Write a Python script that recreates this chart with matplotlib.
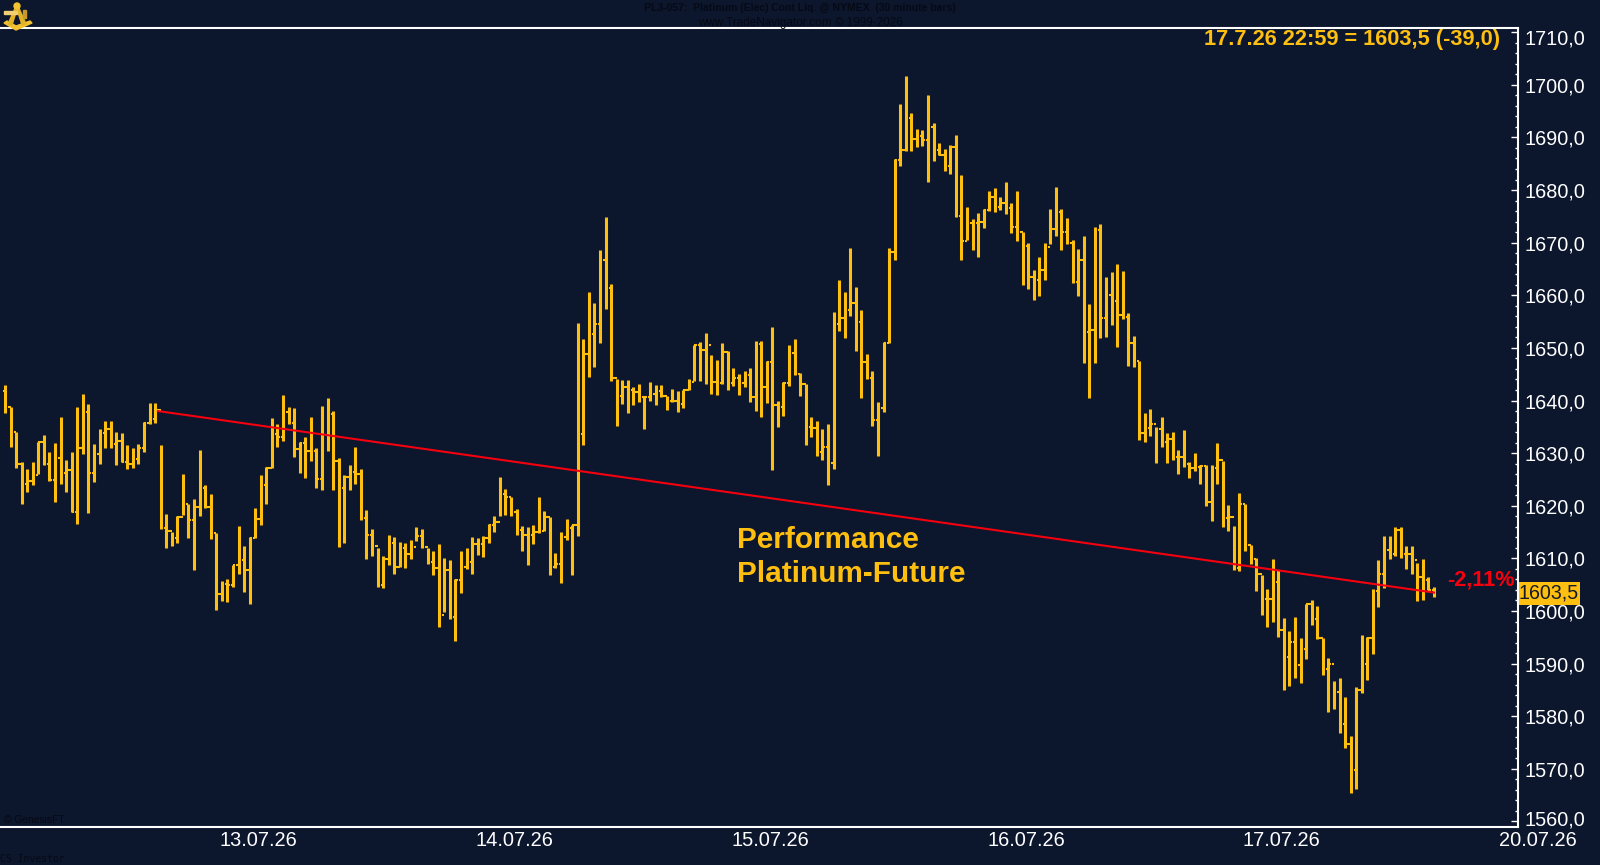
import matplotlib
matplotlib.use("Agg")
import matplotlib.pyplot as plt
from matplotlib.patches import Polygon, Circle, Rectangle
from matplotlib.transforms import Affine2D, blended_transform_factory
import numpy as np

plt.rcParams['font.family'] = ['Liberation Sans', 'DejaVu Sans']

highs = [
1642.9,1638.8,1634.1,1628.4,1627.0,1628.3,1632.2,1633.4,1630.2,1632.0,
1636.8,1628.7,1630.3,1638.8,1641.2,1639.3,1631.7,1634.5,1636.2,1636.2,
1634.1,1633.8,1631.5,1630.9,1631.7,1636.0,1639.6,1639.6,1631.5,1618.4,
1615.1,1618.0,1626.1,1620.3,1621.2,1630.6,1624.0,1622.3,1614.9,1605.7,
1606.0,1608.8,1616.1,1612.4,1614.0,1619.5,1625.8,1627.4,1636.6,1635.5,
1641.0,1638.8,1638.5,1632.2,1633.0,1636.9,1630.9,1639.0,1640.4,1638.1,
1629.1,1625.8,1627.7,1631.1,1626.9,1619.2,1615.6,1611.9,1610.5,1614.5,
1614.1,1613.1,1613.0,1613.5,1616.0,1615.6,1612.0,1611.4,1612.8,1610.0,
1609.6,1606.0,1611.4,1611.9,1614.0,1613.8,1614.3,1616.6,1618.0,1625.5,
1623.2,1621.7,1619.3,1616.1,1616.0,1616.4,1621.6,1619.0,1617.9,1611.1,
1615.0,1617.4,1616.4,1654.8,1651.7,1660.7,1658.6,1668.6,1674.8,1662.2,
1644.1,1643.9,1643.9,1642.6,1643.2,1640.6,1643.5,1642.9,1643.0,1640.9,
1642.2,1641.8,1642.0,1644.0,1650.6,1651.2,1652.9,1648.7,1647.7,1651.0,
1649.4,1646.1,1645.0,1645.6,1646.1,1651.3,1651.3,1647.5,1653.9,1639.9,
1643.5,1650.6,1651.7,1645.3,1643.1,1636.9,1636.1,1634.5,1635.5,1656.9,
1663.0,1660.7,1669.0,1661.5,1657.2,1648.8,1645.6,1639.8,1651.1,1668.9,
1685.9,1696.3,1701.7,1694.6,1691.6,1691.4,1698.0,1692.7,1688.9,1687.8,
1688.6,1690.5,1682.8,1676.8,1674.5,1675.7,1676.4,1679.9,1680.3,1678.6,
1681.5,1677.5,1679.9,1672.0,1669.9,1664.9,1667.2,1669.9,1676.4,1680.5,
1676.4,1674.6,1670.5,1668.8,1671.3,1658.3,1673.0,1673.6,1663.5,1664.5,
1666.0,1664.7,1656.7,1652.3,1647.5,1637.7,1638.3,1635.0,1636.8,1633.8,
1634.1,1630.6,1634.4,1628.4,1630.1,1627.7,1627.7,1627.7,1632.0,1628.5,
1620.1,1616.1,1622.5,1620.3,1612.6,1610.1,1606.9,1604.1,1609.8,1607.8,
1598.7,1596.2,1598.9,1594.8,1601.4,1602.0,1600.9,1594.8,1591.0,1586.6,
1587.2,1583.7,1576.3,1585.5,1595.5,1595.0,1604.1,1609.6,1614.3,1614.3,
1615.9,1615.9,1612.4,1612.4,1609.2,1609.8,1606.4,1604.6,
]
lows = [
1637.6,1631.1,1627.1,1620.4,1622.7,1623.9,1626.0,1627.7,1624.7,1620.8,
1624.2,1622.7,1618.9,1616.6,1629.8,1618.7,1624.6,1628.0,1631.0,1630.9,
1627.7,1628.4,1626.9,1627.1,1627.9,1630.3,1635.5,1635.8,1615.6,1611.9,
1612.3,1613.0,1618.2,1613.8,1607.8,1618.1,1619.5,1613.7,1600.1,1601.9,
1601.8,1604.5,1607.1,1603.6,1601.4,1613.8,1616.3,1620.3,1627.1,1631.1,
1632.4,1635.5,1629.2,1626.3,1625.2,1628.5,1623.3,1622.9,1630.4,1623.0,
1612.2,1613.0,1622.9,1624.2,1617.3,1609.8,1610.4,1604.5,1604.3,1608.8,
1607.1,1608.4,1608.1,1609.8,1613.3,1612.0,1609.0,1606.8,1596.9,1599.8,
1598.4,1594.3,1603.4,1608.0,1607.1,1610.6,1610.3,1613.0,1615.0,1618.1,
1618.3,1618.1,1614.4,1611.4,1608.7,1612.8,1614.9,1615.2,1606.8,1608.1,
1605.4,1613.5,1606.9,1614.3,1631.6,1644.5,1646.3,1651.0,1657.4,1643.7,
1635.1,1639.4,1637.7,1639.1,1639.7,1634.5,1639.9,1639.1,1640.7,1638.2,
1639.7,1637.8,1638.5,1642.0,1643.7,1643.7,1643.2,1641.3,1641.0,1643.2,
1642.0,1642.7,1641.1,1642.5,1639.7,1638.0,1636.9,1639.6,1626.7,1635.0,
1637.1,1642.7,1644.8,1640.8,1631.5,1633.1,1629.4,1628.6,1623.9,1627.0,
1653.2,1651.8,1656.1,1649.4,1640.4,1644.0,1635.2,1629.5,1637.9,1651.0,
1666.7,1684.5,1687.5,1687.5,1688.1,1688.4,1681.6,1685.5,1686.6,1683.6,
1683.1,1674.8,1666.8,1670.5,1668.6,1667.3,1672.7,1676.0,1675.8,1676.3,
1675.4,1671.8,1670.3,1661.9,1661.1,1659.1,1659.9,1663.0,1669.7,1671.3,
1668.6,1669.7,1662.3,1659.9,1647.2,1640.4,1647.2,1651.9,1652.0,1654.3,
1650.2,1655.4,1646.6,1646.3,1632.5,1632.2,1633.2,1628.2,1631.2,1628.2,
1628.6,1626.1,1627.3,1625.2,1626.6,1624.1,1620.0,1617.1,1624.2,1615.9,
1615.2,1607.8,1607.6,1611.4,1609.0,1603.8,1599.2,1597.0,1597.9,1595.0,
1584.9,1585.8,1587.3,1586.3,1590.8,1597.4,1594.6,1587.8,1580.8,1581.3,
1576.8,1574.0,1565.5,1566.1,1584.4,1586.8,1591.9,1600.8,1604.3,1609.9,
1610.5,1610.0,1608.0,1607.1,1601.9,1602.1,1604.0,1602.6,
]
closes = [
1638.8,1634.1,1628.0,1624.2,1624.7,1625.8,1632.2,1628.0,1624.9,1629.1,
1626.3,1626.8,1618.9,1630.9,1637.9,1626.3,1629.8,1633.9,1634.5,1631.7,
1632.3,1628.4,1628.0,1628.8,1630.9,1635.8,1636.4,1638.2,1615.8,1615.2,
1613.8,1617.9,1620.3,1617.3,1619.8,1623.3,1619.8,1614.9,1603.3,1605.1,
1604.9,1608.7,1609.7,1607.8,1613.8,1617.4,1623.9,1627.1,1633.6,1633.1,
1637.9,1635.8,1630.7,1631.9,1630.5,1630.5,1625.1,1633.4,1637.4,1628.5,
1623.3,1625.5,1626.5,1626.0,1617.6,1614.4,1612.4,1604.9,1609.8,1613.0,
1608.4,1612.0,1610.8,1612.2,1614.2,1612.2,1609.3,1608.1,1599.2,1607.8,
1598.8,1605.9,1608.4,1609.3,1612.8,1612.8,1613.8,1616.3,1617.0,1622.3,
1621.6,1618.9,1615.4,1614.5,1614.4,1615.0,1615.2,1617.9,1608.3,1609.0,
1614.1,1615.7,1616.4,1633.6,1648.9,1652.7,1654.5,1666.7,1661.3,1644.2,
1640.9,1642.6,1642.0,1641.6,1640.6,1640.6,1641.3,1641.8,1640.8,1639.9,
1640.0,1639.3,1642.0,1643.5,1650.5,1649.6,1650.6,1643.5,1643.4,1649.3,
1643.4,1644.2,1643.4,1644.8,1640.6,1650.8,1642.6,1647.4,1639.1,1638.8,
1643.4,1649.1,1645.1,1643.1,1635.0,1634.7,1630.2,1631.2,1628.1,1654.5,
1655.6,1657.2,1658.5,1654.9,1647.4,1644.2,1636.3,1638.5,1650.9,1668.3,
1685.7,1687.6,1693.7,1689.7,1690.2,1689.5,1691.9,1687.6,1686.7,1684.6,
1688.1,1675.0,1670.3,1673.7,1673.7,1673.9,1676.2,1678.6,1676.8,1677.6,
1676.5,1672.9,1672.0,1669.4,1663.5,1662.9,1664.8,1669.1,1672.6,1675.9,
1672.0,1669.9,1662.6,1666.7,1653.1,1653.4,1672.4,1655.6,1660.0,1659.0,
1656.2,1655.9,1650.9,1647.5,1633.9,1634.7,1635.5,1634.6,1632.2,1632.6,
1629.2,1629.2,1628.0,1627.1,1627.3,1627.6,1620.8,1627.1,1628.6,1617.6,
1617.9,1608.1,1620.3,1612.5,1609.9,1607.1,1602.2,1602.2,1605.5,1596.3,
1591.3,1594.1,1589.7,1592.7,1601.4,1598.4,1594.8,1588.9,1589.9,1584.6,
1578.6,1574.7,1569.8,1585.0,1589.9,1594.8,1603.8,1607.1,1611.6,1610.9,
1615.4,1610.9,1610.9,1609.7,1606.5,1605.9,1604.0,1603.5,
]
first_open = 1641.8
opens = [first_open] + closes[:-1]

trend_bars = [28.5, 258]
trend_prices = [1638.0, 1603.5]
last_price = 1603.5

date_labels = ['13.07.26', '14.07.26', '15.07.26', '16.07.26', '17.07.26', '20.07.26']
date_bars = [46.6, 92.6, 138.6, 184.6, 230.6, 276.6]
major_prices = list(range(1560, 1711, 10))
minor_prices = [p for p in range(1560, 1711, 2) if p % 10]

BG = '#0C162C'
GOLD = '#FFBF10'
RED = '#F5000F'
DARK = '#060A16'
W, H = 1600, 865

fig = plt.figure(figsize=(16, 8.65), dpi=100, facecolor=BG)
L, R, T, B = 1, 1518, 28, 826.7
ax = fig.add_axes([L/W, 1-B/H, (R-L)/W, (B-T)/H], facecolor=BG)
x = np.arange(1, len(highs)+1)
ax.set_xlim(0.28, 273.1)
ax.set_ylim(1559.0, 1710.8)

ax.vlines(x, lows, highs, color=GOLD, lw=2.2, capstyle='butt', zorder=3)
ax.hlines(closes, x, x+0.44, color=GOLD, lw=1.5, zorder=3)
ax.hlines(opens, x-0.44, x, color=GOLD, lw=1.5, zorder=3)
ax.plot(trend_bars, trend_prices, color=RED, lw=1.5, zorder=4)

ax.spines['left'].set_visible(False)
for s in ['top', 'bottom', 'right']:
    ax.spines[s].set_color('white')
    ax.spines[s].set_linewidth(1.5)
ax.set_xticks([])
ax.yaxis.tick_right()
ax.set_yticks(major_prices)
ax.set_yticks(minor_prices, minor=True)
ax.set_yticklabels([f'{p},0' for p in major_prices], fontsize=14.3, color='white')
ax.tick_params(axis='y', which='major', direction='in', length=5, width=1, color='white', pad=4.4,
               labelright=True)
ax.tick_params(axis='y', which='minor', direction='in', length=2.5, width=1, color='white')
for tick in ax.yaxis.get_major_ticks():
    v = tick.get_loc()
    if v == 1710:
        tick.label2.set_transform(tick.label2.get_transform() + Affine2D().translate(0, -5))
    elif v == 1560:
        tick.label2.set_transform(tick.label2.get_transform() + Affine2D().translate(0, 3))

bt = blended_transform_factory(ax.transData, fig.transFigure)
for lab, b in zip(date_labels, date_bars):
    ax.text(b, 1-840/H, lab, transform=bt, ha='center', va='center', color='white',
            fontsize=14.4, clip_on=False)

px = lambda xp, yp: (xp/W, 1-yp/H)
fig.text(*px(1500, 39.5), '17.7.26 22:59 = 1603,5 (-39,0)', color=GOLD, fontsize=15.65,
         fontweight='bold', ha='right', va='center')
fig.text(*px(737, 540), 'Performance', color=GOLD, fontsize=21.4, fontweight='bold', ha='left', va='center')
fig.text(*px(737, 574), 'Platinum-Future', color=GOLD, fontsize=21.4, fontweight='bold', ha='left', va='center')
fig.text(*px(1447, 580), '-2,11%', color=RED, fontsize=15.6, fontweight='bold', ha='left', va='center')

fig.patches.append(Rectangle(px(1519, 605), 61/W, 23/H, transform=fig.transFigure,
                             facecolor=GOLD, edgecolor='none', figure=fig))
fig.text(*px(1519, 593), f'{last_price:.1f}'.replace('.', ','),
         color='#141A2A', fontsize=14.1, ha='left', va='center')

fig.text(*px(800, 8), 'PL3-057:  Platinum (Elec) Cont Liq. @ NYMEX  (30 minute bars)', color=DARK,
         fontsize=7.5, fontweight='bold', ha='center', va='center')
fig.text(*px(800, 23), 'www.TradeNavigator.com © 1999-2026', color=DARK, fontsize=8.5, ha='center', va='center')
fig.text(*px(4, 820), '© GenesisFT', color=DARK, fontsize=7.4, ha='left', va='center')
fig.text(*px(0, 858.5), 'CS Investor', color=DARK, fontsize=7, family='DejaVu Sans Mono', ha='left', va='center')

# small gold sextant logo in the corner
lg = fig.add_axes([0, 1-32/H, 34/W, 32/H])
lg.set_xlim(0, 34); lg.set_ylim(32, 0); lg.axis('off')
lg.add_patch(Polygon([[4, 23], [16, 30], [32, 23], [30, 21], [16, 26], [7, 21]], color='#F2C230'))
lg.add_patch(Polygon([[16, 6], [18, 6], [26, 24], [22, 25]], color='#E3B327'))
lg.add_patch(Polygon([[16, 6], [18, 6], [12, 25], [8, 24]], color='#E3B327'))
lg.add_patch(Rectangle((4, 11), 13, 3, color='#F0D070'))
lg.add_patch(Rectangle((23, 10), 3, 8, color='#C8982A'))
lg.add_patch(Circle((17, 6), 3, color='#F2C230'))

fig.savefig('out.png', dpi=100, facecolor=BG)
